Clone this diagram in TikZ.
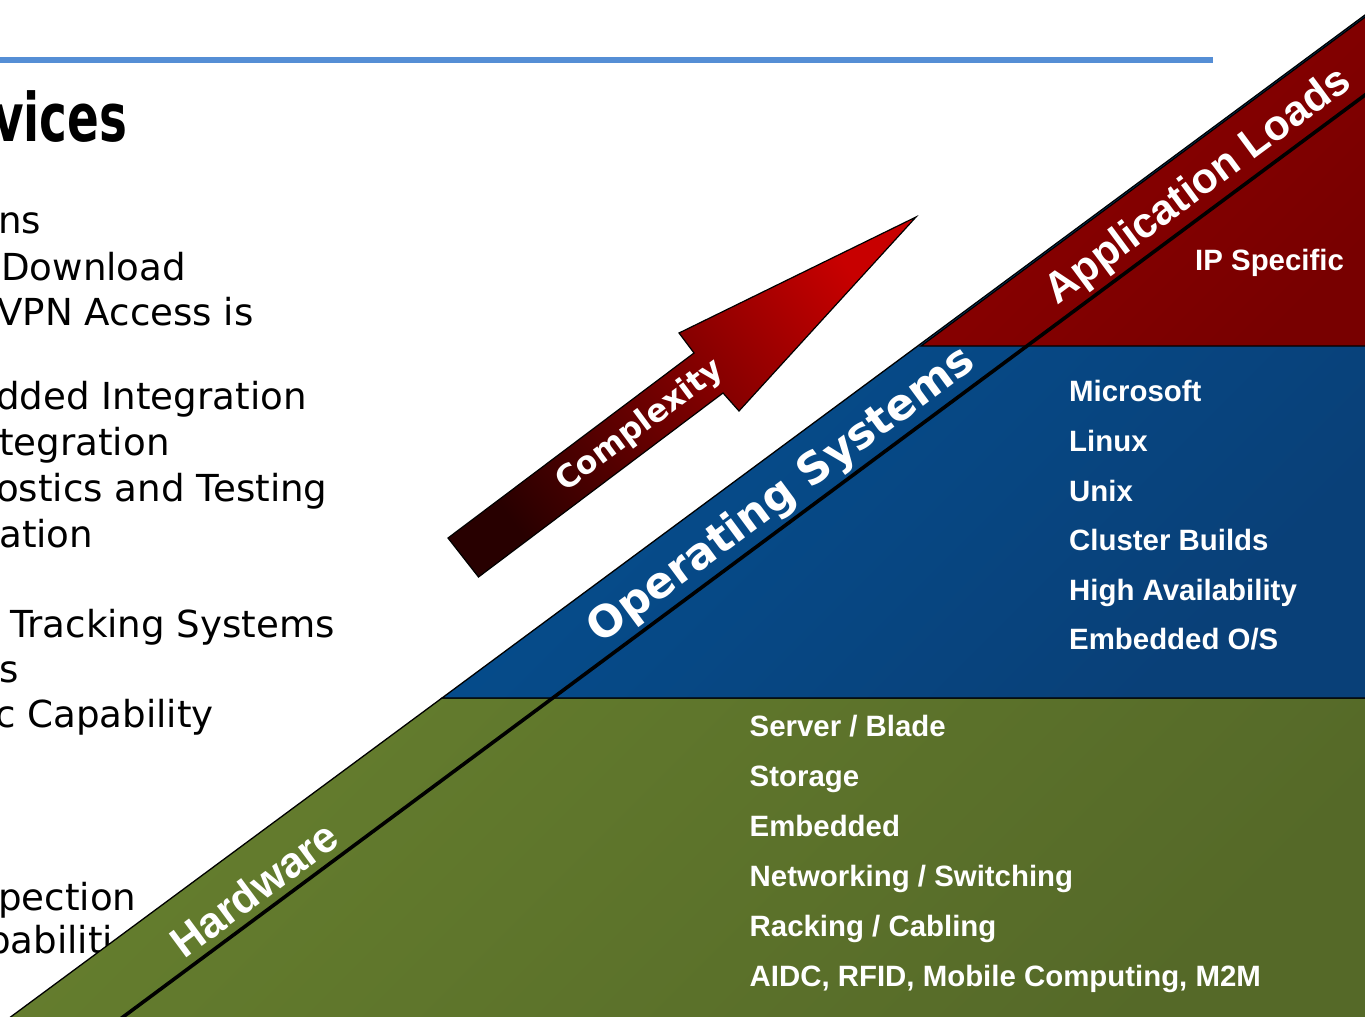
\documentclass[tikz,border=0pt]{standalone}
\usepackage{graphicx}
\usepackage{fontspec}
\setmainfont{DejaVu Sans}
\newfontfamily\arialfont{Liberation Sans}
\definecolor{rulebl}{RGB}{85,142,213}
\definecolor{greenA}{RGB}{101,126,46}
\definecolor{greenB}{RGB}{85,105,40}
\definecolor{blueA}{RGB}{3,83,150}
\definecolor{blueB}{RGB}{9,64,120}
\definecolor{redA}{RGB}{143,0,0}
\definecolor{redB}{RGB}{120,0,0}
\definecolor{arrA}{RGB}{40,0,0}
\definecolor{arrB}{RGB}{200,0,0}
\tikzset{
  bodytxt/.style={anchor=base west, inner sep=0pt, text=black, font=\fontsize{37.2}{44}\selectfont},
  wtxt/.style={anchor=base west, inner sep=0pt, text=white, font=\arialfont\fontsize{29.4}{35}\selectfont\bfseries},
  bandlbl/.style={rotate=36.5, inner sep=0pt, text=white},
  band/.style={draw=black, line width=1.3pt, line join=miter},
}
\begin{document}
\begin{tikzpicture}[x=1pt,y=-1pt]
\useasboundingbox (0,0) rectangle (1365,1017);
% left slide text (cut at the page edge)
\node[anchor=base west, inner sep=0pt] (title) at (-7,141) {\scalebox{0.7}[1]{\bfseries\fontsize{67}{80}\selectfont vices}};
\node[bodytxt] (l1) at (-2,233.5) {ns};
\node[bodytxt] (l2) at (1,280) {Download};
\node[bodytxt] (l3) at (-3,325.5) {VPN Access is};
\node[bodytxt] (l4) at (-4,409) {dded Integration};
\node[bodytxt] (l5) at (-1,455) {tegration};
\node[bodytxt] (l6) at (-4,501) {ostics and Testing};
\node[bodytxt] (l7) at (-1,547) {ation};
\node[bodytxt] (l8) at (10,637) {Tracking Systems};
\node[bodytxt] (l9) at (-1,682) {s};
\node[bodytxt] (l10) at (-5,727) {c Capability};
\node[bodytxt] (l11) at (-2,910) {pection};
\node[bodytxt] (l12) at (-13,953) {pabiliti};
% blue rule
\coordinate (r1) at (-5,60);
\coordinate (r2) at (1213,60);
\draw[rulebl, line width=5.3pt] (r1) -- (r2);
% complexity arrow
\coordinate (t1) at (448,538);
\coordinate (n1) at (694,353);
\coordinate (b1) at (679,333);
\coordinate (tip) at (916,217);
\coordinate (b2) at (739,411);
\coordinate (n2) at (723,393);
\coordinate (t2) at (478.5,577);
\path[draw=black, line width=1.2pt, line join=miter, top color=arrB, bottom color=arrA, shading angle=-53]
  (t1) -- (n1) -- (b1) -- (tip) -- (b2) -- (n2) -- (t2) -- cycle;
\node[bandlbl, font=\fontsize{31.5}{36}\selectfont\bfseries] (cx) at (640,426) {Complexity};
% layered triangle
\coordinate (hb) at (-7,1030);
\coordinate (hg) at (442,698);
\coordinate (hr) at (918,346);
\coordinate (ht) at (1380,3.9);
\path[band, top color=greenA, bottom color=greenB, shading angle=45]
  (hb) -- (hg) -- (1380,698) -- (1380,1030) -- cycle;
\path[band, top color=blueA, bottom color=blueB, shading angle=45]
  (hg) -- (ht) -- (1380,698) -- cycle;
\path[band, top color=redA, bottom color=redB, shading angle=45]
  (921,346) -- (1383,3.9) -- (1383,346) -- cycle;
\coordinate (i1) at (105.5,1030);
\coordinate (i2) at (1380,83.9);
\draw[black, line width=3.6pt] (i1) -- (i2);
% band labels
\node[bandlbl, font=\arialfont\fontsize{43}{52}\selectfont\bfseries] (hw) at (254,889) {Hardware};
\node[bandlbl, font=\fontsize{43.5}{52}\selectfont\bfseries] (os) at (782,496) {Operating Systems};
\node[bandlbl, font=\arialfont\fontsize{42.5}{52}\selectfont\bfseries] (al) at (1199,187) {Application Loads};
% band contents
\node[wtxt] (ip) at (1195,270.7) {IP Specific};
\node[wtxt] (o1) at (1069,401.5) {Microsoft};
\node[wtxt] (o2) at (1069,451) {Linux};
\node[wtxt] (o3) at (1069,501) {Unix};
\node[wtxt] (o4) at (1069,550.5) {Cluster Builds};
\node[wtxt] (o5) at (1069,600) {High Availability};
\node[wtxt] (o6) at (1069,649) {Embedded O/S};
\node[wtxt] (g1) at (749.5,736) {Server / Blade};
\node[wtxt] (g2) at (749.5,786.5) {Storage};
\node[wtxt] (g3) at (749.5,836.5) {Embedded};
\node[wtxt] (g4) at (749.5,886.5) {Networking / Switching};
\node[wtxt] (g5) at (749.5,936.5) {Racking / Cabling};
\node[wtxt] (g6) at (749.5,986) {AIDC, RFID, Mobile Computing, M2M};
\end{tikzpicture}
\end{document}
